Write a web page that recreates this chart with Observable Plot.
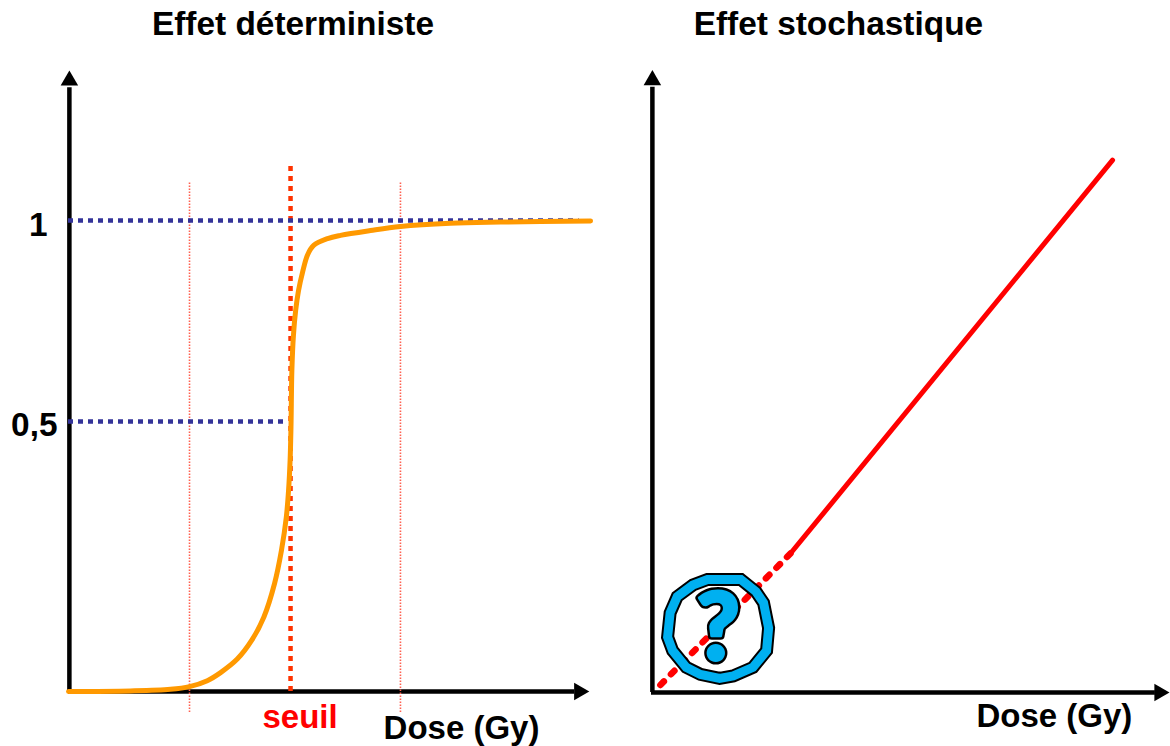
<!DOCTYPE html>
<html>
<head>
<meta charset="utf-8">
<script src="https://cdn.jsdelivr.net/npm/d3@7"></script>
<script src="https://cdn.jsdelivr.net/npm/@observablehq/plot@0.6"></script>
<style>
html,body{margin:0;padding:0;background:#fff}
#chart{position:relative;width:1170px;height:746px;overflow:hidden}
#chart svg{position:absolute;top:0;display:block;overflow:visible;background:transparent}
</style>
</head>
<body>
<div id="chart"></div>
<script>
// Left panel: dose (threshold = 1) and effect
const curveDose = [0,.279,.459,.545,.625,.685,.76,.827,.88,.928,.959,.981,.991,.998,1.002,1.006,1.013,1.023,1.036,1.054,1.077,1.104,1.167,1.225,1.36,1.495,1.72,1.946,2.351];
const curveEffect = [0,.001,.004,.009,.02,.035,.06,.096,.138,.2,.261,.323,.372,.428,.49,.627,.714,.776,.826,.871,.915,.938,.955,.963,.975,.985,.993,.996,.999];
const thinDoses = [0.545, 1.495];
const seuilDose = 1.0;
const levelOne = 1, levelHalf = 0.5;
// Right panel: linear dose-effect
const solidDose = [.626, 2.077];
const solidEffect = [.295, 1.13];
const dottedDose = [.04, .626];
const dottedEffect = [.016, .295];
const questionAt = {x: .30, y: .137};

const font = "Liberation Sans, Arial, sans-serif";
const black = "#000", orange = "#ff9900", navy = "#333399", red = "#ff0000", dotRed = "#ff3300", sky = "#00b0f0";

const pts = (xs, ys) => xs.map((x, i) => ({x, y: ys[i]}));
const label = (txt, x, y, o = {}) => Plot.text([txt], {x: () => x, y: () => y, text: d => d, fontFamily: font, fontWeight: "bold", fontSize: 33.4, fill: black, ...o});

const ringSymbol = {draw(ctx, size) {
  const r = Math.sqrt(size / Math.PI);
  const shape = [[-.21,-.96],[.45,-.96],[.75,-.72],[.9,-.5],[1.0,0],[.96,.45],[.69,.78],[.3,.95],[.03,1],[-.35,.92],[-.63,.78],[-.9,.45],[-1,.18],[-.95,-.3],[-.81,-.62],[-.5,-.85]];
  shape.forEach(([a, b], i) => i ? ctx.lineTo(a * r, b * r) : ctx.moveTo(a * r, b * r));
  ctx.closePath();
}};

const left = Plot.plot({
  width: 620, height: 746, margin: 0,
  x: {type: "linear", domain: [0, 2.486], range: [68, 620], axis: null},
  y: {type: "linear", domain: [0, .5, 1, 1.547], range: [691, 421, 220, 0], axis: null},
  marks: [
    Plot.ruleY([0], {x1: 0, x2: 2.28, stroke: black, strokeWidth: 4.5}),
    Plot.ruleX([0], {x: () => .004, y1: 0, y2: 1.33, stroke: black, strokeWidth: 4.5}),
    Plot.dot([0], {x: () => 2.3, y: () => 0, symbol: "triangle", r: 6.5, rotate: 90, fill: black, stroke: "none"}),
    Plot.dot([0], {x: () => .004, y: () => 1.348, symbol: "triangle", r: 6.5, fill: black, stroke: "none"}),
    Plot.ruleX(thinDoses, {y1: -0.039, y2: 1.095, stroke: "#ff6050", strokeWidth: 1.6, strokeDasharray: "1.5 1.5"}),
    Plot.ruleX([seuilDose], {x: () => 1.0, y1: 0, y2: 1.137, stroke: dotRed, strokeWidth: 4.5, strokeDasharray: "5 5"}),
    Plot.ruleY([levelOne], {x1: 0, x2: 2.3, stroke: navy, strokeWidth: 4.5, strokeDasharray: "5 5"}),
    Plot.ruleY([levelHalf], {x1: 0, x2: .985, stroke: navy, strokeWidth: 4.5, strokeDasharray: "5 5"}),
    Plot.line(pts(curveDose, curveEffect), {x: "x", y: "y", curve: "catmull-rom", stroke: orange, strokeWidth: 5}),
    label("Effet déterministe", 1.011, 1.488),
    label("1", 0, 1, {textAnchor: "end", dx: -21, dy: 5}),
    label("0,5", 0, .5, {textAnchor: "end", dx: -11, dy: 4}),
    label("seuil", 1.043, 0, {dy: 26, fill: red, fontSize: 33}),
    label("Dose (Gy)", 1.77, 0, {dy: 37, fontSize: 33})
  ]
});
left.style.left = "0px";

const question = (stroke, strokeWidth) => Plot.text([questionAt], {x: "x", y: "y", text: () => "?", dy: 2, fontFamily: "Lato, Liberation Sans", fontWeight: 900, fontSize: 94, fill: sky, stroke, strokeWidth, strokeLinejoin: "round"});

const right = Plot.plot({
  width: 550, height: 746, margin: 0,
  x: {type: "linear", domain: [0, 2.338], range: [31, 550], axis: null},
  y: {type: "linear", domain: [0, 1.469], range: [692, 0], axis: null},
  marks: [
    Plot.ruleY([0], {x1: 0, x2: 2.27, stroke: black, strokeWidth: 4.5}),
    Plot.ruleX([0], {x: () => .004, y1: 0, y2: 1.285, stroke: black, strokeWidth: 4.5}),
    Plot.dot([0], {x: () => 2.288, y: () => 0, symbol: "triangle", r: 6.5, rotate: 90, fill: black, stroke: "none"}),
    Plot.dot([0], {x: () => .004, y: () => 1.3, symbol: "triangle", r: 6.5, fill: black, stroke: "none"}),
    Plot.line(pts(solidDose, solidEffect), {x: "x", y: "y", stroke: red, strokeWidth: 5}),
    Plot.line(pts(dottedDose, dottedEffect), {x: "x", y: "y", stroke: red, strokeWidth: 6.5, strokeDasharray: "5 10"}),
    Plot.dot([questionAt], {x: "x", y: "y", symbol: ringSymbol, r: 50.5, fill: "none", stroke: black, strokeWidth: 13}),
    Plot.dot([questionAt], {x: "x", y: "y", symbol: ringSymbol, r: 50.5, fill: "none", stroke: sky, strokeWidth: 9}),
    question(black, 8),
    question(sky, 3),
    label("Effet stochastique", .842, 1.418),
    label("Dose (Gy)", 1.815, 0, {dy: 24, fontSize: 33})
  ]
});
right.style.left = "620px";

document.getElementById("chart").append(left, right);
</script>
</body>
</html>
